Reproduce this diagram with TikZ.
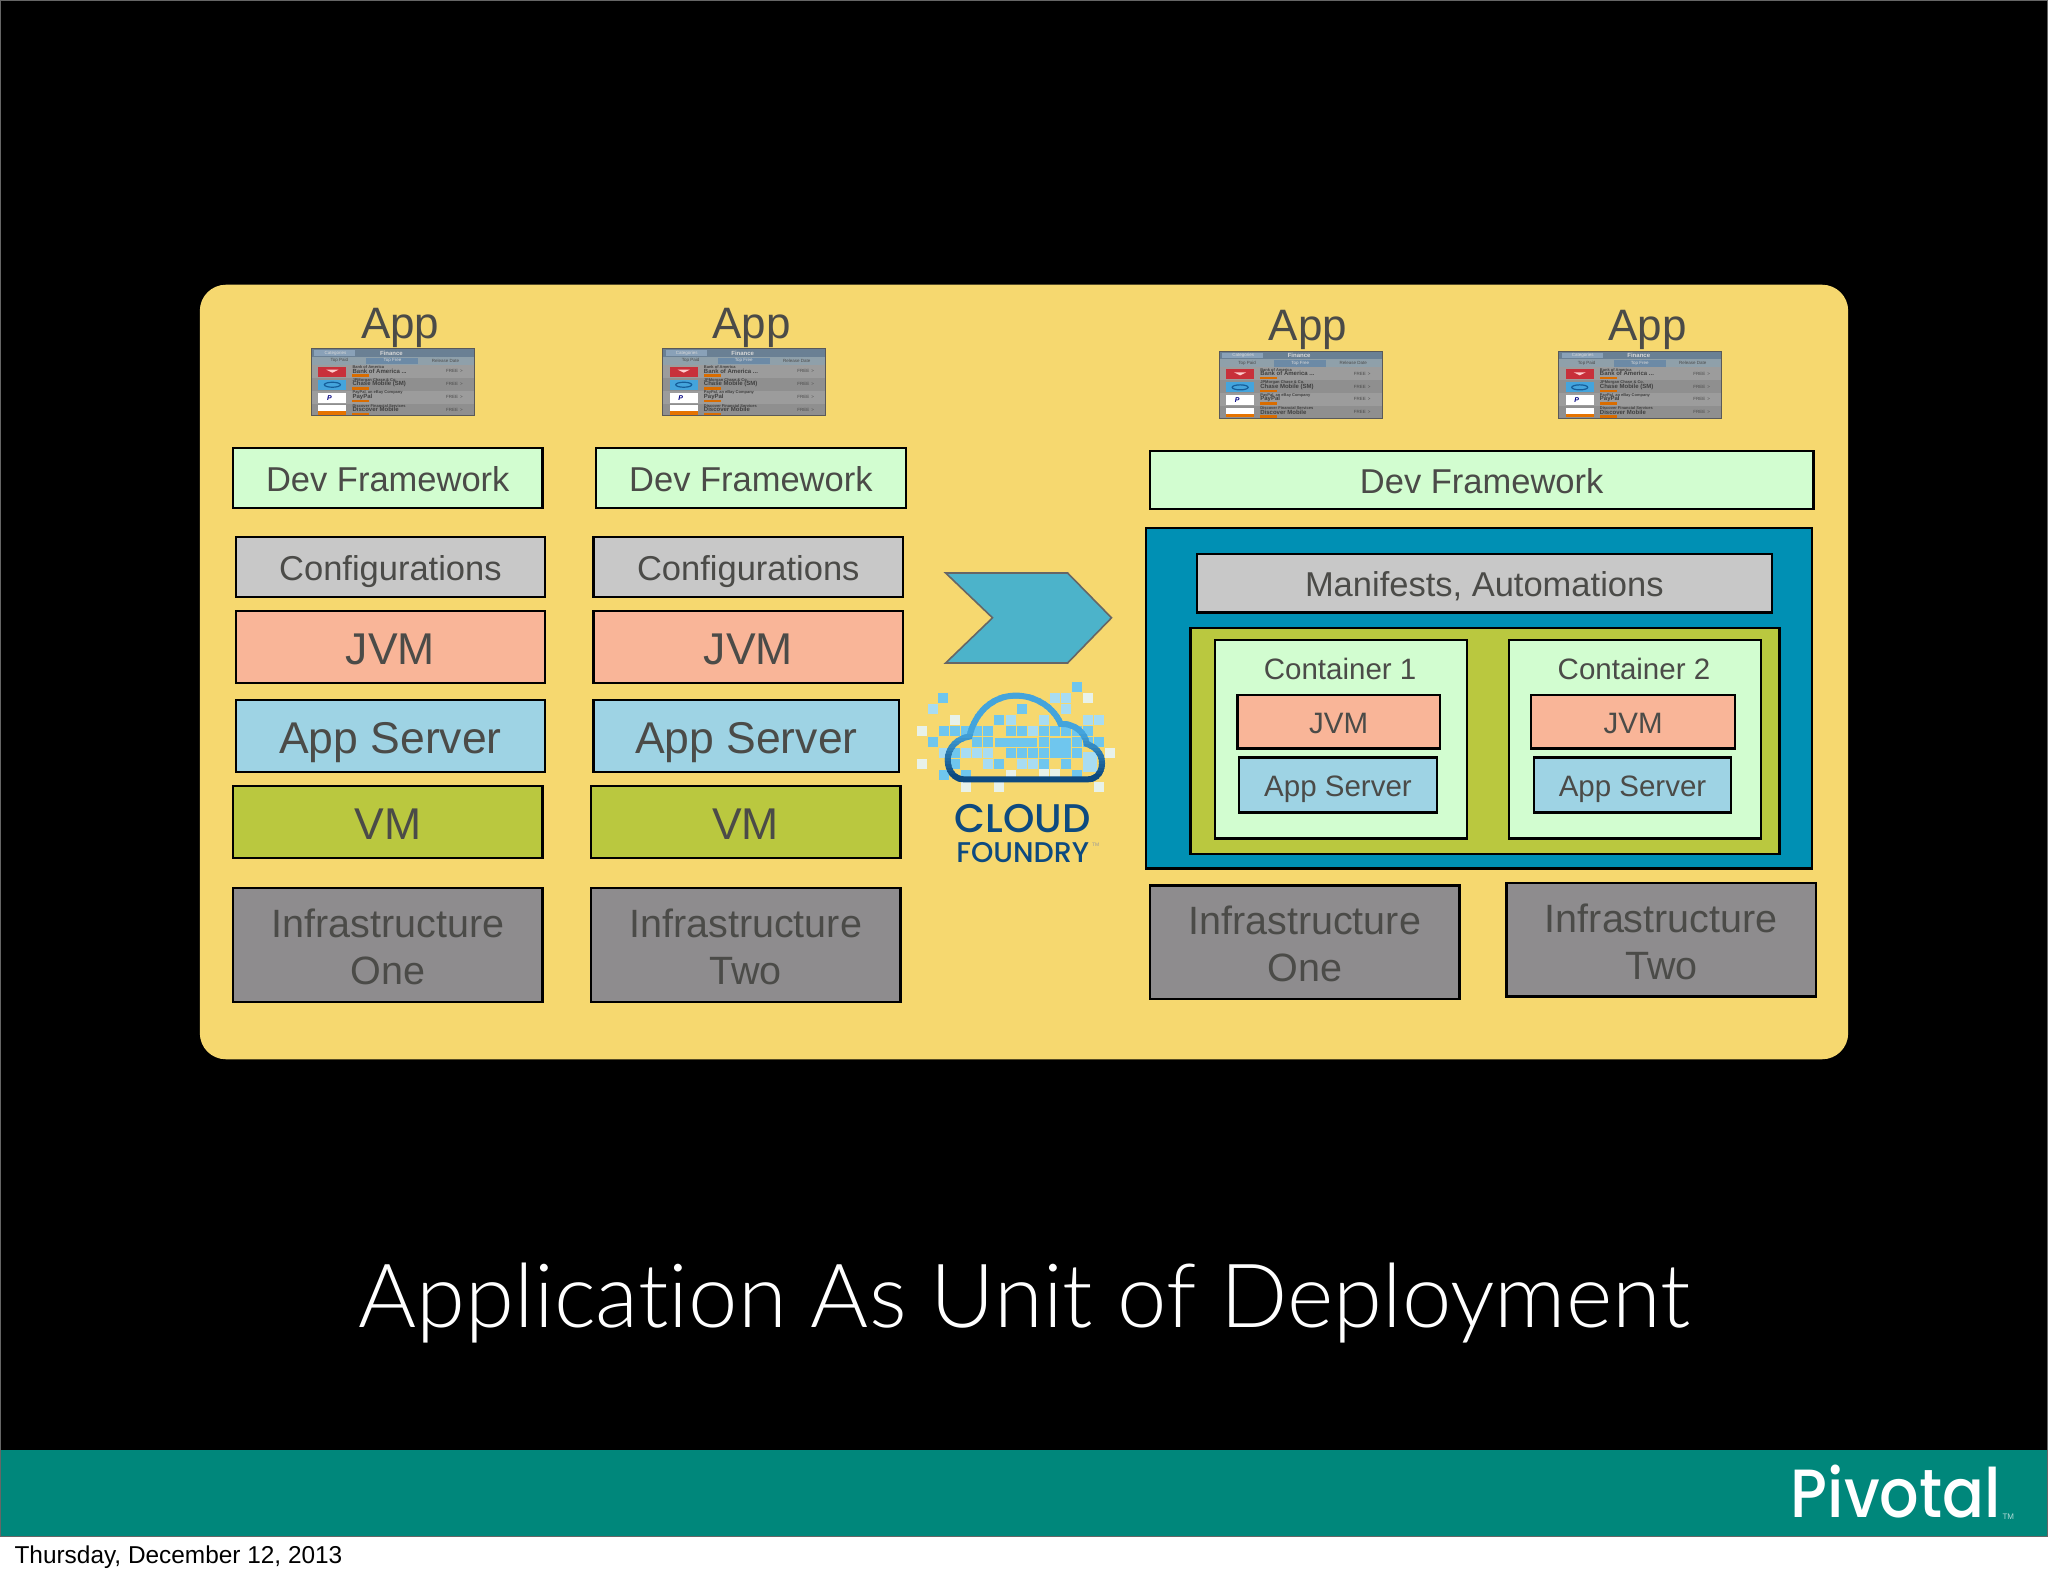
\documentclass[tikz,border=0pt]{standalone}
\usepackage{fontspec}
\setmainfont{Liberation Sans}
\newfontfamily\titlefont[UprightFont=* Light,Ligatures=CommonOff]{Lato}
\newfontfamily\logofont[UprightFont=* Medium]{Poppins}
\newcommand\fs[1]{\fontsize{#1pt}{\dimexpr#1pt*12/10\relax}\selectfont}
\definecolor{txt}{HTML}{4B4B48}
\definecolor{panelc}{HTML}{F6D86F}
\definecolor{devc}{HTML}{D2FDD0}
\definecolor{confc}{HTML}{C8C8C8}
\definecolor{jvmc}{HTML}{F9B598}
\definecolor{asc}{HTML}{9ED3E4}
\definecolor{vmc}{HTML}{BAC83F}
\definecolor{infc}{HTML}{8E8C8E}
\definecolor{bluec}{HTML}{0090B4}
\definecolor{chevc}{HTML}{4CB3CA}
\definecolor{tealc}{HTML}{00877B}
\definecolor{midb}{HTML}{6FC6EE}
\definecolor{ligb}{HTML}{A8DCF2}
\definecolor{whb}{HTML}{E8F2EA}
\definecolor{navyc}{HTML}{0D4A80}
\definecolor{HTML6A}{HTML}{6A8094}
\definecolor{HTML8A}{HTML}{8FA0AA}
\definecolor{HTML5B}{HTML}{6C8AA6}
\definecolor{HTMLA0}{HTML}{9C9C9C}
\definecolor{HTML90}{HTML}{8F8F8F}
\definecolor{HTMLC8}{HTML}{C8303A}
\definecolor{HTML3B}{HTML}{44A4DC}
\definecolor{HTML15}{HTML}{155E9A}
\tikzset{
 x=1.3061pt,y=-1.3061pt,
 box/.style={draw=black,line width=2.2pt,inner sep=0pt,outer sep=0pt,text=txt,align=center},
 fA/.style={font=\fs{34.5},text height=27.4pt,text depth=0pt},
 fB/.style={font=\fs{44.5},text height=34.6pt,text depth=0pt},
 fC/.style={font=\fs{29.5},text height=23.8pt,text depth=0pt},
 fD/.style={font=\fontsize{39.5}{47}\selectfont,inner sep=0pt,text=txt,align=center},
 applabel/.style={font=\fs{44},text=txt,inner sep=0pt,anchor=base},
 tiny/.style={inner sep=0pt,font=\fs{#1}\bfseries,text=black!75,anchor=west},
}
\newcommand\bx[8]{%
 \pgfmathsetmacro\bw{(#4-#2)*1.3061}%
 \pgfmathsetmacro\bh{(#5-#3)*1.3061}%
 \node[box,fill=#6,#7,minimum width=\bw pt,minimum height=\bh pt] (#1) at ({(#2+#4)/2+0.4},{(#3+#5)/2}) {#8};}
% infrastructure box: text set slightly below the box centre
\newcommand\infbox[6]{%
 \bx{#1}{#2}{#3}{#4}{#5}{infc}{}{}%
 \node[fD] (#1-t) at ([yshift=-1.8pt]#1.center) {#6};}
% app thumbnail: px-based local coordinates
\newcommand\thumb[3]{%
 \begin{scope}[shift={(#2+0.4,#3)},x=1pt,y=-1pt]
  \fill[HTML6A] (0,0) rectangle (163,8);
  \fill[HTML8A] (0,8) rectangle (163,16);
  \fill[HTML5B] (55,9) rectangle (107,15.5);
  \fill[HTMLA0] (0,16) rectangle (163,29);
  \fill[HTML90] (0,29) rectangle (163,42);
  \fill[HTMLA0] (0,42) rectangle (163,55);
  \fill[HTML90] (0,55) rectangle (163,67);
  \fill[HTML5B!80!white] (3,1.5) rectangle (44,7);
  \node[inner sep=0pt,font=\fs{4.5},text=white!85!black] (#1-c) at (24,4.2) {Categories};
  \node[inner sep=0pt,font=\fs{6}\bfseries,text=white!85!black] (#1-f) at (80,4.2) {Finance};
  \node[inner sep=0pt,font=\fs{4.5},text=black!70] (#1-t1) at (28,12) {Top Paid};
  \node[inner sep=0pt,font=\fs{4.5},text=white!85!black] (#1-t2) at (81,12) {Top Free};
  \node[inner sep=0pt,font=\fs{4.5},text=black!70] (#1-t3) at (134,12) {Release Date};
  \fill[HTMLC8] (7,18) rectangle (35,28);
  \fill[white!80!red] (15,21) -- (27,21) -- (21,24) -- cycle;
  \fill[HTML3B] (7,31) rectangle (35,41);
  \draw[HTML15,line width=1.2pt] (21,36) ellipse (8 and 2.5);
  \fill[white] (7,44) rectangle (35,54);
  \node[inner sep=0pt,font=\fs{7}\bfseries\itshape,text=blue!50!black] (#1-p) at (18,49) {P};
  \fill[white] (7,56.5) rectangle (35,66);
  \fill[orange!90!black] (7,62.5) rectangle (35,66);
  \node[tiny=4] (#1-a1) at (41,18.5) {Bank of America};
  \node[tiny=6] (#1-a2) at (41,22.5) {Bank of America ...};
  \node[tiny=4] (#1-b1) at (41,31.5) {JPMorgan Chase \& Co.};
  \node[tiny=6] (#1-b2) at (41,35.5) {Chase Mobile (SM)};
  \node[tiny=4] (#1-d1) at (41,44) {PayPal, an eBay Company};
  \node[tiny=6] (#1-d2) at (41,48) {PayPal};
  \node[tiny=4] (#1-e1) at (41,57) {Discover Financial Services};
  \node[tiny=6] (#1-e2) at (41,61) {Discover Mobile};
  \foreach \yy/\nn in {22.5/a,35.5/b,48/c,61/d}{
    \node[inner sep=0pt,font=\fs{4.5},text=black!70] (#1-free\nn) at (143,\yy) {FREE \,>};
    \fill[orange!85!black] (41,\yy+3) rectangle (58,\yy+5.5);
  }
  \draw[black!65,line width=0.8pt] (0,0) rectangle (163,67);
 \end{scope}}
\begin{document}
\begin{tikzpicture}
\useasboundingbox (0,0) rectangle (1568,1206.64);
\fill[white] (0,0) rectangle (1568,1206.64);
\fill[black] (0,0) rectangle (1568,1110);
\fill[tealc] (0,1110) rectangle (1568,1176);
\draw[black!60,line width=1pt] (0.4,0.4) rectangle (1567.6,1176.5);
% panel
\fill[panelc,rounded corners=26pt] (153,218) rectangle (1415,811);
% column 1
\node[applabel] (app1) at (306.4,259) {App};
\thumb{th1}{238}{267}
\bx{dev1}{178}{343}{415}{389}{devc}{fA}{Dev Framework}
\bx{conf1}{180}{411}{417}{457}{confc}{fA}{Configurations}
\bx{jvm1}{180}{468}{417}{523}{jvmc}{fB}{JVM}
\bx{as1}{180}{536}{417}{591}{asc}{fB}{App Server}
\bx{vm1}{178}{602}{415}{657}{vmc}{fB}{VM}
\infbox{inf1}{178}{680}{415}{767}{Infrastructure\\One}
% column 2
\node[applabel] (app2) at (575.4,259) {App};
\thumb{th2}{507}{267}
\bx{dev2}{456}{343}{693}{389}{devc}{fA}{Dev Framework}
\bx{conf2}{454}{411}{691}{457}{confc}{fA}{Configurations}
\bx{jvm2}{454}{468}{691}{523}{jvmc}{fB}{JVM}
\bx{as2}{454}{536}{688}{591}{asc}{fB}{App Server}
\bx{vm2}{452}{602}{689}{657}{vmc}{fB}{VM}
\infbox{inf2}{452}{680}{689}{767}{Infrastructure\\Two}
% chevron
\draw[fill=chevc,draw=black!60,line width=1.6pt,line join=miter]
 (724,438.7) -- (817.4,438.7) -- (851,473) -- (817.4,507.6) -- (724,507.6) -- (759.9,473) -- cycle;
% cloud logo (zoom coordinates)
\begin{scope}[shift={(689.1,413.4)},x=0.3333pt,y=-0.3333pt]
 \foreach \cx/\cy in {530/440,130/473,100/607,132/705,597/607,365/507,298/541,132/573,165/573,198/573,232/573,265/573,332/573,365/573,432/573,465/573,497/573,530/573,565/573,232/607,265/607,432/607,530/607,565/607,165/640,332/640,365/640,398/640,432/640,530/640,165/673,298/673,432/673,497/673,198/705,530/705}
   \fill[midb] (\cx-15,\cy-15) rectangle (\cx+15,\cy+15);
 \foreach \cx/\cy in {100/507,465/475,497/475,497/507,565/541,597/541,332/541,432/541,398/573,132/640,198/640,232/640,265/640,265/673,365/673,398/673}
   \fill[ligb] (\cx-15,\cy-15) rectangle (\cx+15,\cy+15);
 \foreach \cx/\cy in {565/475,165/541,67/573,67/673,630/640,597/740,198/740,298/740,332/705,432/703,465/703}
   \fill[whb] (\cx-15,\cy-15) rectangle (\cx+15,\cy+15);
 \fill[midb] (284,593) rectangle (412,622);
 \fill[midb] (451,593) rectangle (512,655);
 \fill[ligb] (550,635) rectangle (592,695);
 \def\cloudpath{(190,718) -- (565,718) .. controls (590,718) and (606,695) .. (606,670) .. controls (606,640) and (585,620) .. (560,612) .. controls (555,575) and (520,550) .. (482,552) .. controls (460,500) and (405,467) .. (347,467) .. controls (280,467) and (225,515) .. (208,590) .. controls (170,595) and (143,625) .. (143,660) .. controls (143,695) and (165,718) .. (190,718) -- cycle}
 \foreach \i in {0,1,...,29}{
  \pgfmathtruncatemacro\mixv{max(0,min(100,(\i-12)*100/13))}
  \colorlet{strokec}{navyc!\mixv!HTML3B}
  \begin{scope}
   \clip (120,{455+\i*10}) rectangle (630,{465+\i*10+0.5});
   \draw[strokec,line width=6pt] \cloudpath;
  \end{scope}}
\end{scope}
\node[inner sep=0pt,anchor=base,font=\logofont\fontsize{40}{44}\selectfont,text=navyc] (cloud) at (783,637) {CLOUD};
\node[inner sep=0pt,anchor=base,font=\logofont\fontsize{28.5}{32}\selectfont,text=navyc] (foundry) at (783,660) {FOUNDRY};
\node[inner sep=0pt,anchor=west,font=\fs{5},text=black!40] (tm1) at (836,647) {TM};
% right block
\node[applabel] (app3) at (1001.4,261) {App};
\thumb{th3}{933}{269}
\node[applabel] (app4) at (1261.4,261) {App};
\thumb{th4}{1193}{269}
\bx{dev3}{880}{345}{1388}{390}{devc}{fA}{Dev Framework}
\bx{blue}{877}{404}{1387}{665}{bluec}{}{}
\bx{man}{916}{424}{1356}{469}{confc}{fA}{Manifests, Automations}
\bx{green}{911}{481}{1362}{654}{vmc}{}{}
\bx{cont1}{930}{490}{1123}{642}{devc}{}{}
\bx{cont2}{1155}{490}{1348}{642}{devc}{}{}
\node[inner sep=0pt,font=\fs{29.5},text=txt] (c1) at (1026,512) {Container 1};
\node[inner sep=0pt,font=\fs{29.5},text=txt] (c2) at (1251,512) {Container 2};
\bx{jvm3}{947}{532}{1102}{573}{jvmc}{fC}{JVM}
\bx{as3}{948}{580}{1100}{622}{asc}{fC}{App Server}
\bx{jvm4}{1172}{532}{1328}{573}{jvmc}{fC}{JVM}
\bx{as4}{1174}{580}{1325}{622}{asc}{fC}{App Server}
\infbox{inf3}{880}{678}{1117}{765}{Infrastructure\\One}
\infbox{inf4}{1153}{676}{1390}{763}{Infrastructure\\Two}
% title
\node[inner sep=0pt,anchor=base,font=\titlefont\fontsize{88.7}{100}\selectfont,text=white] (title) at (784.5,1016) {Application As Unit of Deployment};
% logo
\node[inner sep=0pt,anchor=base west,font=\logofont\fontsize{62}{70}\selectfont,text=white] (piv) at (1371,1162) {\scalebox{1}[1.1]{Pivotal}};
\node[inner sep=0pt,anchor=base west,font=\fs{8},text=white!70!tealc] (pivtm) at (1533,1163) {TM};
% date
\node[inner sep=0pt,anchor=base west,font=\fs{24.4},text=black] (date) at (11,1197) {Thursday, December 12, 2013};
\end{tikzpicture}
\end{document}
